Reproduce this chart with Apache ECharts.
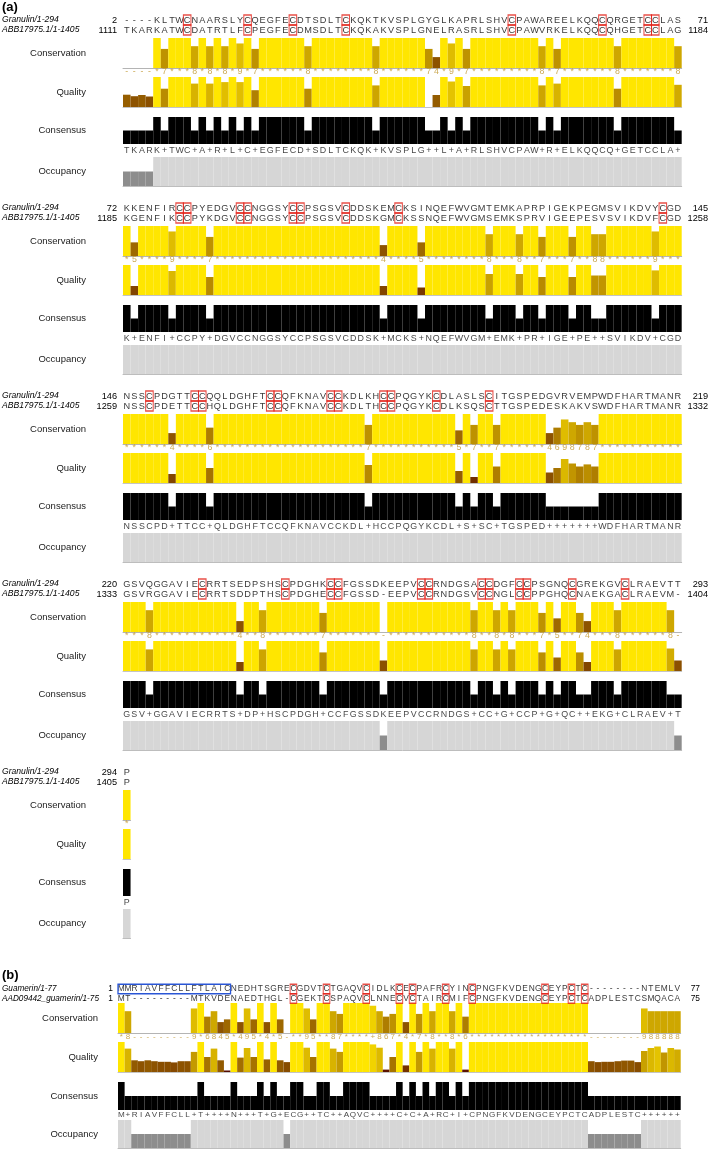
<!DOCTYPE html>
<html><head><meta charset="utf-8">
<script src="https://cdn.jsdelivr.net/npm/echarts@6/dist/echarts.min.js"></script>
<style>html,body{margin:0;padding:0;background:#fff}#c{width:709px;height:1151px}</style>
</head><body><div id="c"></div><script>
// ---------------- DATA ----------------
const namesA = ["Granulin/1-294", "ABB17975.1/1-1405"];
const namesB = ["Guamerin/1-77", "AAD09442_guamerin/1-75"];

// panel (a): one string per block
const seqGranulin = [
  "----KLTWCNAARSLYCQEGFECDTSDLTCKQKTKVSPLGYGLKAPRLSHVCPAWAREELKQQCQRGETCCLAS",
  "KKENFIRCCPYEDGVCCNGGSYCCPSGSVCDDSKEMCKSINQEFWVGMTEMKAPRPIGEKPEGMSVIKDVYCGD",
  "NSSCPDGTTCCQQLDGHFTCCQFKNAVCCKDLKHCCPQGYKCDLASLSCITGSPEDGVRVEMPWDFHARTMANR",
  "GSVQGGAVIECRRTSEDPSHSCPDGHKCCFGSSDKEEPVCCRNDGSACCDGFCCPSGNQCGREKGVCLRAEVTT",
  "P"];
const seqABB = [
  "TKARKATWCDATRTLFCPEGFECDMSDLTCKQKAKVSPLGNELRASRLSHVCPAWVRKELKQQCQHGETCCLAG",
  "KGENFIKCCPYKDGVCCNGGSYCCPSGSVCDDSKGMCKSSNQEFWVGMSEMKSPRVIGEEPESVSVIKDVFCGD",
  "NSSCPDETTCCHQLDGHFTCCQFKNAVCCKDLTHCCPQGYKCDLKSQSCTTGSPEDESKAKVSWDFHARTMANR",
  "GSVRGGAVIECRRTSDDPTHSCPDGHECCFGSSD-EEPVCCRNDGSVCCNGLCCPPGHQCNAEKGACLRAEVM-",
  "P"];
const startGranulin = [2, 72, 146, 220, 294];
const endGranulin   = [71, 145, 219, 293, null];
const startABB      = [1111, 1185, 1259, 1333, 1405];
const endABB        = [1184, 1258, 1332, 1404, null];
const conservationA = [
  "----*7***8" + "*8*8*9*7**" + "****8*****" + "***8******" + "74*9*7****" + "*****8*7**" + "*****8****" + "***8",
  "*5****9***" + "*7********" + "**********" + "****4****5" + "********8*" + "**8**7***7" + "**88******" + "9***",
  "******4***" + "*6********" + "**********" + "**7*******" + "****5*7**7" + "******4698" + "787*******" + "****",
  "***8******" + "*****4**8*" + "******7***" + "****-*****" + "******8**8" + "*8***7*5**" + "74***8****" + "**8-",
  "*"];
const qualityA = [
  [.41,.36,.40,.35,1,.61,1,1,1,.78, 1,.78,1,.83,1,.83,1,.56,1,1, 1,1,1,1,.61,1,1,1,1,1, 1,1,1,.72,1,1,1,1,1,1,
   0,.40,1,.85,1,.70,1,1,1,1, 1,1,1,1,1,.72,1,.78,1,1, 1,1,1,1,1,.61,1,1,1,1, 1,1,1,.74],
  [1,.30,1,1,1,1,.80,1,1,1, 1,.60,1,1,1,1,1,1,1,1, 1,1,1,1,1,1,1,1,1,1, 1,1,1,1,.30,1,1,1,1,.25,
   1,1,1,1,1,1,1,1,.70,1, 1,1,.70,1,1,.60,1,1,1,.60, 1,1,.65,.65,1,1,1,1,1,1, .82,1,1,1],
  [1,1,1,1,1,1,.30,1,1,1, 1,.50,1,1,1,1,1,1,1,1, 1,1,1,1,1,1,1,1,1,1, 1,1,.60,1,1,1,1,1,1,1,
   1,1,1,1,.40,1,.20,1,1,.55, 1,1,1,1,1,1,.35,.50,.80,.65, .55,.62,.55,1,1,1,1,1,1,1, 1,1,1,1],
  [1,1,1,.72,1,1,1,1,1,1, 1,1,1,1,1,.30,1,1,.72,1, 1,1,1,1,1,1,.62,1,1,1, 1,1,1,1,.35,1,1,1,1,1,
   1,1,1,1,1,1,.72,1,1,.72, 1,.72,1,1,1,.62,1,.45,1,1, .62,.30,1,1,1,.72,1,1,1,1, 1,1,.75,.35],
  [1]];
const consensusA = [
  "TKARK+TWC+A+R+L+C+EGFECD+SDLTCKQK+KVSPLG++L+A+RLSHVCPAW+R+ELKQQCQ+GETCCLA+",
  "K+ENFI+CCPY+DGVCCNGGSYCCPSGSVCDDSK+MCKS+NQEFWVGM+EMK+PR+IGE+PE++SVIKDV+CGD",
  "NSSCPD+TTCC+QLDGHFTCCQFKNAVCCKDL+HCCPQGYKCDL+S+SC+TGSPED+++++++WDFHARTMANR",
  "GSV+GGAVIECRRTS+DP+HSCPDGH+CCFGSSDKEEPVCCRNDGS+CC+G+CCP+G+QC++EKG+CLRAEV+T",
  "P"];

// panel (b)
const seqGuamerin = "MMRIAVFFCLLFTLAICNEDHTSGRECGDVTCTGAQVCIDLKCECPAFRCYINCPNGFKVDENGCEYPCTC--------NTEMLV";
const seqAAD      = "MT---------MTKVDENAEDTHGL-CGEKTCSPAQVCLNNECVCTAIRCMIFCPNGFKVDENGCEYPCTCADPLESTCSMQACA";
const startB = [1, 1];
const endB = [77, 75];
const conservationB = "*8--------" + "-9*6845*49" + "5*4*5-**95" + "**87****+8" + "67*4*7*8**" + "8*6*******" + "**********" + "*--------9" + "88888";
const qualityB = [1,.78,.39,.36,.39,.36,.34,.34,.32,.36, .36,.67,1,.50,.78,.39,.05,1,.48,.80,
  .50,1,.42,1,.39,.33,1,1,.81,.50, 1,1,.78,.67,1,1,1,1,.92,.81, .08,.50,1,.22,1,.67,1,.78,1,1,
  .78,1,.08,1,1,1,1,1,1,1, 1,1,1,1,1,1,1,1,1,1, 1,.36,.33,.34,.34,.36,.38,.38,.33,.70, .80,.85,.65,.80,.75];
const consensusB = "M+RIAVFFCLL+T++++N+++T+G+ECG++TC++AQVC++++C+C+A+RC+I+CPNGFKVDENGCEYPCTCADPLESTC++++++";
const blueBoxB = [0, 16]; // signal peptide columns in Guamerin

const trackNames = ["Conservation", "Quality", "Consensus", "Occupancy"];

// ---------------- BUILD ----------------
const FONT = "'Liberation Sans', Arial, Helvetica, sans-serif";
const grids = [], xAxes = [], yAxes = [], series = [], graphics = [];

function consColor(v) {
  const r = Math.round(255 * (0.3 + 0.7 * v)), g = Math.round(255 * 0.9 * v);
  return 'rgb(' + r + ',' + g + ',0)';
}
function addGrid(left, top, width, height, n, ymax, baseline) {
  const gi = grids.length;
  grids.push({ left: left, top: top, width: width, height: height });
  xAxes.push({ type: 'category', gridIndex: gi, data: Array.from({ length: n }, (_, i) => i),
    boundaryGap: true, show: !!baseline,
    axisLine: { show: !!baseline, onZero: true, lineStyle: { color: baseline || '#000', width: 1 } },
    axisTick: { show: false }, axisLabel: { show: false }, splitLine: { show: false } });
  yAxes.push({ type: 'value', gridIndex: gi, min: 0, max: ymax, show: false });
  return gi;
}
function addBars(gi, vals, colorFn) {
  series.push({ type: 'bar', xAxisIndex: gi, yAxisIndex: gi, barWidth: '100%', barGap: '0%',
    barCategoryGap: '0%', silent: true, animation: false,
    data: vals.map(v => ({ value: v, itemStyle: { color: colorFn(v) } })) });
}
function addText(gi, str, fs, color, weight) {
  series.push({ type: 'scatter', xAxisIndex: gi, yAxisIndex: gi, symbolSize: 1, silent: true, animation: false,
    itemStyle: { color: 'rgba(0,0,0,0)' },
    data: str.split('').map((ch, i) => [i, 0.5]),
    label: { show: true, position: 'inside', formatter: p => str[p.dataIndex], fontSize: fs,
      color: color, fontFamily: FONT, fontWeight: weight || 'normal' } });
}
function addBoxes(gi, cols, w, h) {
  if (!cols.length) return;
  series.push({ type: 'scatter', xAxisIndex: gi, yAxisIndex: gi, symbol: 'rect', symbolSize: [w, h],
    silent: true, animation: false, z: 5,
    itemStyle: { color: 'rgba(0,0,0,0)', borderColor: '#e2231a', borderWidth: 1.2 },
    data: cols.map(i => [i, 0.5]) });
}
function txt(x, y, text, font, align, fill) {
  graphics.push({ type: 'text', x: x, y: y, silent: true,
    style: { text: text, font: font, align: align, verticalAlign: 'middle',
      textAlign: align, textVerticalAlign: 'middle', fill: fill || '#000' } });
}
const symVal = s => s === '*' ? 11 : s === '+' ? 10 : s === '-' ? 0 : +s;

function buildBlock(c) {
  const n = c.s1.length, L = c.lay, W = n * c.p, y = c.y;
  const r1 = addGrid(c.x0, y - L.rowH / 2, W, L.rowH, n, 1);
  const r2 = addGrid(c.x0, y + L.dy2 - L.rowH / 2, W, L.rowH, n, 1);
  addText(r1, c.s1, c.fs, '#000');
  addText(r2, c.s2, c.fs, '#000');
  const cc = [];
  for (let i = 0; i < n; i++) if (c.s1[i] === 'C' && c.s2[i] === 'C') cc.push(i);
  addBoxes(r1, cc, c.p, L.rowH);
  addBoxes(r2, cc, c.p, L.rowH);
  if (c.blue) {
    series.push({ type: 'custom', xAxisIndex: r1, yAxisIndex: r1, silent: true, animation: false, z: 6,
      data: [c.blue],
      renderItem: (params, api) => {
        const a = api.coord([api.value(0), 0.5]), b = api.coord([api.value(1), 0.5]);
        const half = api.size([1, 0])[0] / 2, hh = L.rowH / 2;
        return { type: 'rect', shape: { x: a[0] - half, y: a[1] - hh, width: b[0] - a[0] + 2 * half, height: 2 * hh },
          style: { fill: 'none', stroke: '#2a56d6', lineWidth: 1.3 } };
      } });
  }
  const nf = 'italic ' + c.nameFs + 'px ' + FONT;
  txt(2, y, c.n1, nf, 'left');
  txt(2, y + L.dy2, c.n2, nf, 'left');
  const numF = c.fs + 'px ' + FONT;
  txt(c.numRight, y, String(c.st1), numF, 'right');
  txt(c.numRight, y + L.dy2, String(c.st2), numF, 'right');
  if (c.en1 != null) txt(c.endRight, y, String(c.en1), numF, 'right');
  if (c.en2 != null) txt(c.endRight, y + L.dy2, String(c.en2), numF, 'right');
  const g1 = addGrid(c.x0, y + L.consTop, W, L.consH, n, 11, '#b4b4b4');
  addBars(g1, c.cons.split('').map(symVal), v => consColor(v / 11));
  const gn = addGrid(c.x0, y + L.numC - 5, W, 10, n, 1);
  addText(gn, c.cons, c.fs - 0.4, '#bf952a');
  const g2 = addGrid(c.x0, y + L.qualTop, W, L.qualH, n, 1, '#c4c4c4');
  addBars(g2, c.qual, v => consColor(v));
  const pct = [], occ = [];
  for (let i = 0; i < n; i++) {
    const a = c.s1[i], b = c.s2[i];
    pct.push(a === '-' || b === '-' || a !== b ? 50 : 100);
    occ.push((a !== '-' ? 1 : 0) + (b !== '-' ? 1 : 0));
  }
  const g3 = addGrid(c.x0, y + L.csTop, W, L.csH, n, 100);
  addBars(g3, pct, () => '#000');
  const gt = addGrid(c.x0, y + L.ctC - 5, W, 10, n, 1);
  addText(gt, c.consensus, c.fs - 0.3, '#111');
  const g4 = addGrid(c.x0, y + L.occTop, W, L.occH, n, 2, '#bdbdbd');
  addBars(g4, occ, v => v === 2 ? '#d6d6d6' : '#8d8d8d');
  const tf = c.trackFs + 'px ' + FONT;
  txt(c.trackRight, y + L.consTop + L.consH / 2, trackNames[0], tf, 'right', '#222');
  txt(c.trackRight, y + L.qualTop + L.qualH / 2, trackNames[1], tf, 'right', '#222');
  txt(c.trackRight, y + L.csTop + L.csH / 2, trackNames[2], tf, 'right', '#222');
  txt(c.trackRight, y + L.occTop + L.occH / 2, trackNames[3], tf, 'right', '#222');
}

const layA = { rowH: 10, dy2: 10, consTop: 18, consH: 30, numC: 52, qualTop: 57, qualH: 30,
  csTop: 97, csH: 27, ctC: 131, occTop: 137, occH: 29 };
const layB = { rowH: 9.5, dy2: 9.5, consTop: 14, consH: 30, numC: 48, qualTop: 53, qualH: 30,
  csTop: 93, csH: 28, ctC: 126, occTop: 131, occH: 28 };
const blockTops = [20, 208, 396, 584, 772];

for (let k = 0; k < 5; k++) {
  buildBlock({ x0: 123, p: 7.55, y: blockTops[k], lay: layA, s1: seqGranulin[k], s2: seqABB[k],
    n1: namesA[0], n2: namesA[1], st1: startGranulin[k], st2: startABB[k], en1: endGranulin[k], en2: endABB[k],
    cons: conservationA[k], qual: qualityA[k], consensus: consensusA[k],
    fs: 9.2, nameFs: 8.6, numRight: 117, endRight: 708, trackRight: 86, trackFs: 9.5 });
}
buildBlock({ x0: 118, p: 6.62, y: 989, lay: layB, s1: seqGuamerin, s2: seqAAD,
  n1: namesB[0], n2: namesB[1], st1: startB[0], st2: startB[1], en1: endB[0], en2: endB[1],
  cons: conservationB, qual: qualityB, consensus: consensusB, blue: blueBoxB,
  fs: 8.4, nameFs: 8.2, numRight: 113, endRight: 700, trackRight: 98, trackFs: 9.5 });

txt(2, 7, '(a)', 'bold 13px ' + FONT, 'left');
txt(2, 975, '(b)', 'bold 13px ' + FONT, 'left');

const chart = echarts.init(document.getElementById('c'), null, { renderer: 'canvas' });
chart.setOption({ animation: false, grid: grids, xAxis: xAxes, yAxis: yAxes, series: series, graphic: graphics });
</script></body></html>
